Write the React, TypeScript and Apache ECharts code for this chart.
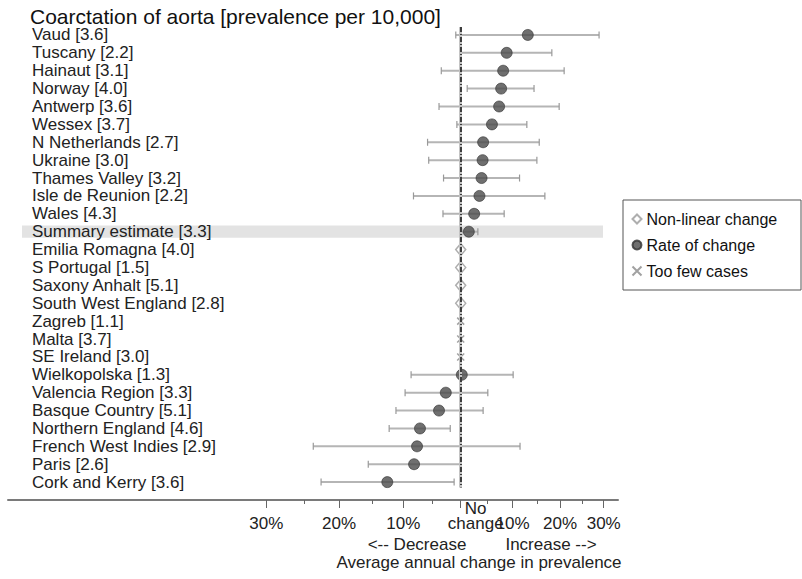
import React, { useEffect, useRef } from "react";
import * as echarts from "echarts";

// ---------------- data ----------------
const regions = [
  "Vaud", "Tuscany", "Hainaut", "Norway", "Antwerp", "Wessex", "N Netherlands",
  "Ukraine", "Thames Valley", "Isle de Reunion", "Wales", "Summary estimate",
  "Emilia Romagna", "S Portugal", "Saxony Anhalt", "South West England",
  "Zagreb", "Malta", "SE Ireland", "Wielkopolska", "Valencia Region",
  "Basque Country", "Northern England", "French West Indies", "Paris",
  "Cork and Kerry",
];
const prevalence = [
  3.6, 2.2, 3.1, 4.0, 3.6, 3.7, 2.7, 3.0, 3.2, 2.2, 4.3, 3.3,
  4.0, 1.5, 5.1, 2.8, 1.1, 3.7, 3.0, 1.3, 3.3, 5.1, 4.6, 2.9, 2.6, 3.6,
];
// "rate" = rate of change, "nonlinear" = non-linear change, "few" = too few cases
const changeType = [
  "rate", "rate", "rate", "rate", "rate", "rate", "rate", "rate", "rate", "rate", "rate", "rate",
  "nonlinear", "nonlinear", "nonlinear", "nonlinear", "few", "few", "few",
  "rate", "rate", "rate", "rate", "rate", "rate", "rate",
];
// average annual change in prevalence (%)
const estimate = [
  13.1, 8.8, 8.1, 7.7, 7.3, 5.9, 4.2, 4.1, 3.9, 3.5, 2.5, 1.5,
  0, 0, 0, 0, 0, 0, 0, 0.2, -2.7, -3.9, -7.2, -7.7, -8.2, -12.6,
];
const lower = [
  -0.9, -0.1, -3.5, 1.2, -3.9, -0.7, -5.9, -5.7, -3.1, -8.3, -3.2, 0.2,
  null, null, null, null, null, null, null, -8.7, -9.7, -11.2, -12.3, -23.7, -15.6, -22.6,
];
const upper = [
  28.9, 18.2, 20.9, 14.4, 19.8, 12.9, 15.5, 15.0, 11.4, 16.7, 8.3, 3.2,
  null, null, null, null, null, null, null, 10.1, 5.1, 4.2, -1.9, 11.5, -0.1, -1.2,
];
const majorTicks = [-30, -20, -10, 0, 10, 20, 30];
const majorTickLabels = ["30%", "20%", "10%", "No\nchange", "10%", "20%", "30%"];
const minorTicks = [-25, -15, -5, 5, 15, 25];
const legendNames = ["Non-linear change", "Rate of change", "Too few cases"];
const titleText = "Coarctation of aorta [prevalence per 10,000]";

// ratio scale: position = ln(1 + change)
const toLog = (p: number) => Math.log(1 + p / 100);

const FONT = "'Liberation Sans', Arial, sans-serif";

export default function App() {
  const ref = useRef<HTMLDivElement>(null);

  useEffect(() => {
    if (!ref.current) return;
    const chart = echarts.init(ref.current, undefined, { renderer: "svg" });

    const rowLabels = regions.map((r, i) => `${r} [${prevalence[i].toFixed(1)}]`);
    const errData: any[] = [];
    const rateData: any[] = [];
    const nonlinData: any[] = [];
    const fewData: any[] = [];
    regions.forEach((_, i) => {
      if (changeType[i] === "rate") {
        errData.push([toLog(lower[i] as number), toLog(upper[i] as number), i]);
        rateData.push([toLog(estimate[i]), i]);
      } else if (changeType[i] === "nonlinear") {
        nonlinData.push([toLog(estimate[i]), i]);
      } else {
        fewData.push([toLog(estimate[i]), i]);
      }
    });

    const labelTicks = majorTicks.filter((t) => t !== 0).map(toLog);
    const labelFor = (v: number) => {
      let best = 0;
      let bd = Infinity;
      majorTicks.forEach((t, i) => {
        const d = Math.abs(toLog(t) - v);
        if (d < bd) { bd = d; best = i; }
      });
      return majorTickLabels[best];
    };

    const X_MIN = -0.8306;
    const X_MAX = 0.2886;
    const summaryIdx = regions.indexOf("Summary estimate");

    const baseX = {
      type: "value",
      min: X_MIN,
      max: X_MAX,
      position: "bottom",
      offset: 0,
      splitLine: { show: false },
      axisPointer: { show: false },
    };

    const option: any = {
      animation: false,
      backgroundColor: "#ffffff",
      title: {
        text: titleText,
        left: 30,
        top: 6,
        padding: 0,
        textStyle: { fontFamily: FONT, fontSize: 21, fontWeight: "normal", color: "#111" },
      },
      legend: {
        data: legendNames,
        orient: "vertical",
        left: 625,
        top: 206,
        itemWidth: 9,
        itemHeight: 9,
        itemGap: 10,
        selectedMode: false,
        textStyle: { fontFamily: FONT, fontSize: 16, color: "#111" },
      },
      grid: { left: 8, right: 184, top: 26, bottom: 79 },
      xAxis: [
        {
          ...baseX,
          axisLine: { show: true, onZero: false, lineStyle: { color: "#7a7a7a", width: 2 } },
          axisTick: { show: true, customValues: majorTicks.map(toLog), length: 8, lineStyle: { color: "#666", width: 1 } },
          axisLabel: {
            show: true,
            customValues: labelTicks,
            formatter: (v: number) => labelFor(v),
            margin: 15,
            fontFamily: FONT,
            fontSize: 17,
            color: "#222",
          },
        },
        {
          ...baseX,
          axisLine: { show: false, onZero: false },
          axisTick: { show: true, customValues: minorTicks.map(toLog), length: 4, lineStyle: { color: "#666", width: 1 } },
          axisLabel: { show: false },
        },
        {
          ...baseX,
          axisLine: { show: false, onZero: false },
          axisTick: { show: false },
          axisLabel: {
            show: true,
            customValues: [toLog(0)],
            formatter: (v: number) => labelFor(v),
            margin: 1,
            lineHeight: 15,
            padding: [0, 0, 0, 30],
            fontFamily: FONT,
            fontSize: 17,
            color: "#222",
          },
        },
      ],
      yAxis: {
        type: "value",
        inverse: true,
        min: -0.5,
        max: 26,
        z: 5,
        axisLine: { show: false, onZero: false },
        axisTick: { show: false },
        splitLine: { show: false },
        axisLabel: {
          show: true,
          inside: true,
          align: "left",
          margin: 24,
          customValues: regions.map((_, i) => i),
          formatter: (v: number) => rowLabels[Math.round(v)] ?? "",
          fontFamily: FONT,
          fontSize: 17,
          color: "#222",
        },
      },
      series: [
        {
          type: "scatter",
          name: "band",
          xAxisIndex: 0,
          data: [],
          z: 1,
          silent: true,
          markArea: {
            silent: true,
            itemStyle: { color: "#e3e3e3" },
            data: [[{ coord: [(22 - 460.7) / 545, summaryIdx - 0.34] }, { coord: [(603 - 460.7) / 545, summaryIdx + 0.34] }]],
          },
        },
        {
          type: "custom",
          name: "ci",
          xAxisIndex: 0,
          z: 2,
          silent: true,
          encode: { x: [0, 1], y: 2 },
          data: errData,
          renderItem: (params: any, api: any) => {
            const lo = api.value(0);
            const hi = api.value(1);
            const y = api.value(2);
            const p1 = api.coord([lo, y]);
            const p2 = api.coord([hi, y]);
            const cap = 3.5;
            return {
              type: "group",
              children: [
                { type: "line", shape: { x1: p1[0], y1: p1[1], x2: p2[0], y2: p2[1] }, style: { stroke: "#b5b5b5", lineWidth: 2 } },
                { type: "line", shape: { x1: p1[0], y1: p1[1] - cap, x2: p1[0], y2: p1[1] + cap }, style: { stroke: "#999", lineWidth: 1.2 } },
                { type: "line", shape: { x1: p2[0], y1: p2[1] - cap, x2: p2[0], y2: p2[1] + cap }, style: { stroke: "#999", lineWidth: 1.2 } },
              ],
            };
          },
        },
        {
          type: "scatter",
          name: "Non-linear change",
          xAxisIndex: 0,
          z: 3,
          symbol: "diamond",
          symbolSize: [10, 12],
          itemStyle: { color: "#ffffff", borderColor: "#9a9a9a", borderWidth: 1.5 },
          data: nonlinData,
        },
        {
          type: "scatter",
          name: "Rate of change",
          xAxisIndex: 0,
          z: 3,
          symbol: "circle",
          symbolSize: 11,
          itemStyle: { color: "#4b4b4b", borderColor: "#333", borderWidth: 0.8 },
          data: rateData,
        },
        {
          type: "scatter",
          name: "Too few cases",
          xAxisIndex: 0,
          z: 3,
          symbol: "path://M0 0L10 10M10 0L0 10",
          symbolSize: 7,
          itemStyle: { color: "none", borderColor: "#8a8a8a", borderWidth: 1.5 },
          data: fewData,
        },
        {
          type: "scatter",
          name: "ref",
          xAxisIndex: 0,
          data: [],
          z: 10,
          silent: true,
          markLine: {
            silent: true,
            symbol: "none",
            label: { show: false },
            data: [
              [{ coord: [0, -0.45], lineStyle: { color: "#c4c4c4", width: 3, type: "solid" } }, { coord: [0, 25.3] }],
              [{ coord: [0, -0.45], lineStyle: { color: "#111", width: 1.5, type: [5, 2, 1, 2] } }, { coord: [0, 25.3] }],
            ],
          },
        },
      ],
      graphic: [
        {
          type: "rect",
          shape: { x: 623, y: 200, width: 178, height: 90 },
          style: { fill: "none", stroke: "#555", lineWidth: 1 },
        },
        {
          type: "text",
          x: 417, y: 544,
          style: { text: "<-- Decrease", fontFamily: FONT, fontSize: 17, fill: "#222", textAlign: "center", textVerticalAlign: "middle" },
        },
        {
          type: "text",
          x: 551, y: 544,
          style: { text: "Increase -->", fontFamily: FONT, fontSize: 17, fill: "#222", textAlign: "center", textVerticalAlign: "middle" },
        },
        {
          type: "text",
          x: 479, y: 562,
          style: { text: "Average annual change in prevalence", fontFamily: FONT, fontSize: 17, fill: "#222", textAlign: "center", textVerticalAlign: "middle" },
        },
      ],
    };

    chart.setOption(option);
    return () => chart.dispose();
  }, []);

  return (
    <div
      ref={ref}
      style={{ position: "fixed", left: 0, top: 0, width: 802, height: 579, background: "#fff" }}
    />
  );
}
